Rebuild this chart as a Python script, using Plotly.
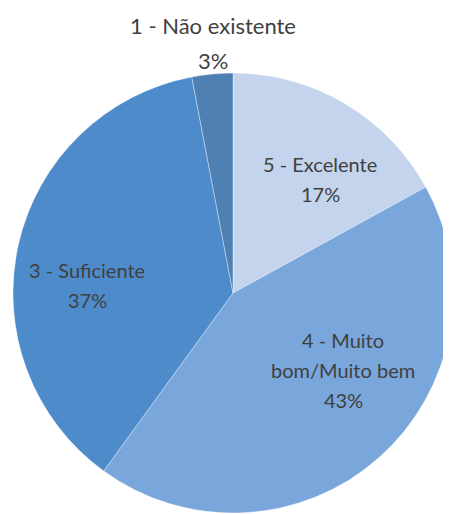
import plotly.graph_objects as go

labels = ["5 - Excelente", "4 - Muito bom/Muito bem", "3 - Suficiente", "1 - Não existente"]
values = [17, 43, 37, 3]
colors = ["#c3d4ec", "#79a6db", "#4d8bcb", "#4f80b4"]

# label block centers (page px), line spacing and font sizes
label_pos = [(320, 179), (343, 370), (87, 285), (213, 43)]
label_gap = [30, 30, 30, 35]
label_size = [20, 20, 20, 22]
wrapped = {"4 - Muito bom/Muito bem": ["4 - Muito", "bom/Muito bem"]}

W, H = 451, 514
OFF = 8  # default page body margin
cx, cy, r = 233 - OFF, 293 - OFF, 220

fig = go.Figure(go.Pie(
    labels=labels,
    values=values,
    sort=False,
    direction="clockwise",
    rotation=0,
    marker=dict(colors=colors, line=dict(color="rgba(255,255,255,0.45)", width=0.8)),
    textinfo="none",
    hoverinfo="label+percent",
    showlegend=False,
    domain=dict(x=[(cx - r) / W, min(1, (cx + r) / W)],
                y=[(H - cy - r) / H, (H - cy + r) / H]),
))

total = sum(values)
for lab, v, (px, py), gap, fs in zip(labels, values, label_pos, label_gap, label_size):
    lines = wrapped.get(lab, [lab]) + [f"{round(100 * v / total)}%"]
    n = len(lines)
    for i, line in enumerate(lines):
        ly = py + (i - (n - 1) / 2) * gap
        fig.add_annotation(
            x=(px - OFF) / W, y=1 - (ly - OFF) / H, xref="paper", yref="paper",
            text=line, showarrow=False, xanchor="center", yanchor="middle",
            font=dict(family="Lato", size=fs, color="#404040"),
        )

fig.update_layout(
    width=W, height=H,
    margin=dict(l=0, r=0, t=0, b=0),
    paper_bgcolor="white", plot_bgcolor="white",
)
fig.write_html("out.html")
